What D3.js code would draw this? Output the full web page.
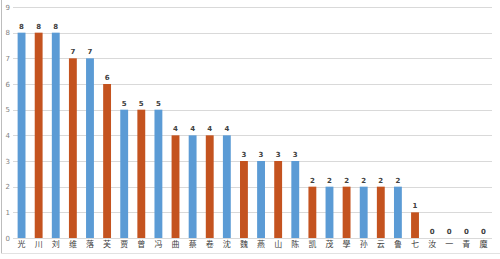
<!DOCTYPE html>
<html>
<head>
<meta charset="utf-8">
<script src="https://cdn.jsdelivr.net/npm/d3@7"></script>
<style>
  html, body { margin: 0; padding: 0; background: #fff; }
  svg text { font-family: "Noto Sans CJK SC", "DejaVu Sans", sans-serif; }
</style>
</head>
<body>
<div id="chart"></div>
<script>
var names = ["光", "川", "刘", "维", "落", "芙", "贾", "曾", "冯", "曲", "蔡", "卷", "沈", "魏",
             "燕", "山", "陈", "凯", "茂", "學", "孙", "云", "鲁", "七", "汝", "一", "青", "魔"];
var counts = [8, 8, 8, 7, 7, 6, 5, 5, 5, 4, 4, 4, 4, 3, 3, 3, 3, 2, 2, 2, 2, 2, 2, 1, 0, 0, 0, 0];
var yTicks = [0, 1, 2, 3, 4, 5, 6, 7, 8, 9];
var palette = ["#5b9bd5", "#c4531f"];

var WIDTH = 500, HEIGHT = 259;
var svg = d3.select("#chart").append("svg").attr("width", WIDTH).attr("height", HEIGHT);

var xScale = d3.scaleBand().domain(names).range([13, 492]).paddingInner(0.54).paddingOuter(0.27);
var yScale = d3.scaleLinear().domain([0, 9]).range([238, 7]);

// frame lines
svg.append("line").attr("x1", 1.5).attr("x2", 1.5).attr("y1", 0).attr("y2", 253)
  .attr("stroke", "#bdbdbd");
svg.append("line").attr("x1", 1).attr("x2", WIDTH).attr("y1", 253.5).attr("y2", 253.5)
  .attr("stroke", "#e2e2e2");

// gridlines
svg.append("g").selectAll("line").data(yTicks).enter().append("line")
  .attr("x1", 13).attr("x2", 492)
  .attr("y1", function(d) { return Math.round(yScale(d)) + 0.5; })
  .attr("y2", function(d) { return Math.round(yScale(d)) + 0.5; })
  .attr("stroke", "#d9d9d9").attr("stroke-width", 1);

// y axis labels
var yAxis = d3.axisLeft(yScale).tickValues(yTicks).tickSize(0).tickPadding(0);
var gY = svg.append("g").attr("transform", "translate(10,0)").call(yAxis);
gY.select(".domain").remove();
gY.selectAll("text").attr("fill", "#7f7f7f").style("font-size", "7px")
  .style("font-family", "DejaVu Sans, sans-serif");

// bars
svg.append("g").selectAll("rect").data(counts).enter().append("rect")
  .attr("x", function(d, i) { return xScale(names[i]); })
  .attr("y", function(d) { return yScale(d); })
  .attr("width", xScale.bandwidth())
  .attr("height", function(d) { return yScale(0) - yScale(d); })
  .attr("fill", function(d, i) { return palette[i % 2]; });

// value labels
svg.append("g").selectAll("text").data(counts).enter().append("text")
  .attr("x", function(d, i) { return xScale(names[i]) + xScale.bandwidth() / 2; })
  .attr("y", function(d) { return yScale(d) - 4; })
  .attr("text-anchor", "middle")
  .attr("fill", "#404040")
  .style("font-size", "7px")
  .style("font-family", "DejaVu Sans, sans-serif")
  .style("font-weight", "bold")
  .text(function(d) { return d; });

// x axis labels
var xAxis = d3.axisBottom(xScale).tickSize(0).tickPadding(3);
var gX = svg.append("g").attr("transform", "translate(0,238)").call(xAxis);
gX.select(".domain").remove();
gX.selectAll("text").attr("fill", "#404040").style("font-size", "8px");
</script>
</body>
</html>
